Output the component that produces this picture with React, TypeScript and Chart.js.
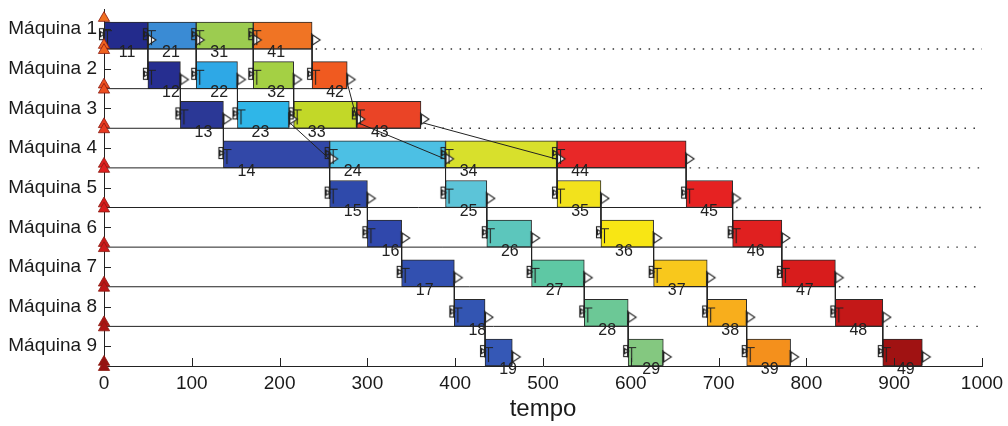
import React, { useEffect, useRef } from 'react';
import { Chart, registerables } from 'chart.js';

Chart.register(...registerables);

// ---------- data ----------
const machineLabels = ['Máquina 1', 'Máquina 2', 'Máquina 3', 'Máquina 4', 'Máquina 5', 'Máquina 6', 'Máquina 7', 'Máquina 8', 'Máquina 9'];
const xTickValues = [0, 100, 200, 300, 400, 500, 600, 700, 800, 900, 1000];
const jobIds = [1, 2, 3, 4];

// start / end time of each job on machines 1..9
const job1Start = [0, 50, 87, 136, 257, 300, 339, 399, 434];
const job1End = [50, 87, 136, 257, 300, 339, 399, 434, 465];
const job2Start = [50, 105, 152, 257, 389, 436, 487, 547, 597];
const job2End = [105, 152, 211, 389, 436, 487, 547, 597, 637];
const job3Start = [105, 170, 216, 389, 516, 566, 626, 687, 732];
const job3End = [170, 216, 288, 516, 566, 626, 687, 732, 782];
const job4Start = [170, 237, 288, 516, 663, 716, 772, 833, 887];
const job4End = [237, 277, 361, 663, 716, 772, 833, 887, 932];

// colours of each operation
const job1Colors = ['#232b8c', '#262e90', '#2b3896', '#3248a8', '#2f4aab', '#3048ac', '#3250b0', '#3355b2', '#3558b6'];
const job2Colors = ['#3a8bd4', '#2ea8e6', '#2fb6e8', '#4cc0e4', '#5cc4d8', '#5cc6bc', '#5ec8a4', '#6cc896', '#84c880'];
const job3Colors = ['#9ccc50', '#a4d044', '#c2d828', '#d8e02c', '#f2e21c', '#f8e614', '#f8c81c', '#f8ae1c', '#f4901c'];
const job4Colors = ['#f07424', '#f05a20', '#ea4426', '#e82828', '#e62222', '#e02020', '#d81c1c', '#c41818', '#a01212'];

// availability markers at time 0 (top of machine 1, then each machine baseline)
const markerColors = ['#f07020', '#f06420', '#ee5020', '#e83a20', '#e02020', '#d81c1c', '#cc1a1a', '#bc1616', '#ac1414', '#981212'];

const jobStarts = [job1Start, job2Start, job3Start, job4Start];
const jobEnds = [job1End, job2End, job3End, job4End];
const jobColors = [job1Colors, job2Colors, job3Colors, job4Colors];

const FONT = '"Liberation Sans", Arial, Helvetica, sans-serif';
const INK = '#222222';

type Op = { job: number; machine: number; s: number; e: number; color: string; label: string };

const ops: Op[] = [];
jobIds.forEach((job, ji) => {
  machineLabels.forEach((_, mi) => {
    ops.push({
      job,
      machine: mi + 1,
      s: jobStarts[ji][mi],
      e: jobEnds[ji][mi],
      color: jobColors[ji][mi],
      label: `${job}${mi + 1}`,
    });
  });
});

const makespans = machineLabels.map((_, mi) => Math.max(...jobEnds.map((arr) => arr[mi])));

function makeStartGlyph(): HTMLCanvasElement {
  const c = document.createElement('canvas');
  c.width = 26;
  c.height = 26;
  const g = c.getContext('2d')!;
  g.strokeStyle = INK;
  g.lineWidth = 1.1;
  g.strokeRect(8.5, 4.5, 4, 11);
  g.beginPath();
  g.moveTo(9.5, 7.5);
  g.lineTo(13.5, 10);
  g.lineTo(9.5, 12.5);
  g.closePath();
  g.stroke();
  g.beginPath();
  g.moveTo(12, 6.5);
  g.lineTo(21, 6.5);
  g.moveTo(16.5, 6.5);
  g.lineTo(16.5, 21);
  g.stroke();
  return c;
}

function makeEndGlyph(): HTMLCanvasElement {
  const c = document.createElement('canvas');
  c.width = 24;
  c.height = 24;
  const g = c.getContext('2d')!;
  g.strokeStyle = INK;
  g.lineWidth = 1.1;
  g.beginPath();
  g.moveTo(11.5, 5);
  g.lineTo(11.5, 20);
  g.stroke();
  g.beginPath();
  g.moveTo(12.5, 7);
  g.lineTo(20, 12);
  g.lineTo(12.5, 17);
  g.closePath();
  g.fillStyle = '#ffffff';
  g.fill();
  g.stroke();
  return c;
}

const decorPlugin = {
  id: 'ganttDecor',
  afterDatasetsDraw(chart: any) {
    const { ctx } = chart;
    const x = chart.scales.x;
    const y = chart.scales.y;
    ctx.save();
    // operation labels
    ctx.font = `16px ${FONT}`;
    ctx.fillStyle = INK;
    ctx.textAlign = 'center';
    ctx.textBaseline = 'middle';
    ops.forEach((o) => {
      ctx.fillText(o.label, x.getPixelForValue(o.s) + 23, y.getPixelForValue(o.machine) + 4);
    });
    // inward tick marks
    ctx.strokeStyle = INK;
    ctx.lineWidth = 1;
    ctx.beginPath();
    xTickValues.forEach((v) => {
      if (v === 0) return;
      const px = Math.round(x.getPixelForValue(v)) + 0.5;
      ctx.moveTo(px, y.bottom);
      ctx.lineTo(px, y.bottom - 8);
    });
    machineLabels.forEach((_, i) => {
      const py = Math.round(y.getPixelForValue(i + 0.5)) + 0.5;
      ctx.moveTo(x.left, py);
      ctx.lineTo(x.left + 7, py);
    });
    ctx.stroke();
    ctx.restore();
  },
};

export default function App() {
  const ref = useRef<HTMLCanvasElement>(null);

  useEffect(() => {
    const canvas = ref.current;
    if (!canvas) return;
    const startGlyph = makeStartGlyph();
    const endGlyph = makeEndGlyph();

    const datasets: any[] = [];

    // bars
    datasets.push({
      type: 'bar',
      indexAxis: 'y',
      data: ops.map((o) => ({ x: [o.s, o.e], y: o.machine - 0.34 })),
      backgroundColor: ops.map((o) => o.color),
      borderColor: '#2a2a2a',
      borderWidth: 1,
      borderSkipped: false,
      barThickness: 27,
      grouped: false,
      order: 10,
    });

    // solid baselines and dotted idle lines
    machineLabels.forEach((_, mi) => {
      const k = mi + 1;
      if (k < machineLabels.length) {
        datasets.push({
          type: 'line',
          data: [{ x: 0, y: k }, { x: makespans[mi], y: k }],
          borderColor: INK,
          borderWidth: 1,
          pointRadius: 0,
          fill: false,
          order: 6,
        });
        datasets.push({
          type: 'line',
          data: [{ x: makespans[mi] + 4, y: k }, { x: 1000, y: k }],
          borderColor: '#333',
          borderWidth: 1.3,
          borderDash: [1.5, 7.5],
          pointRadius: 0,
          fill: false,
          order: 6,
        });
      }
    });

    // precedence connectors
    jobIds.forEach((_, ji) => {
      for (let mi = 0; mi < machineLabels.length - 1; mi++) {
        datasets.push({
          type: 'line',
          data: [
            { x: jobEnds[ji][mi], y: mi + 1 - 0.15 },
            { x: jobStarts[ji][mi + 1], y: mi + 2 - 0.22 },
          ],
          borderColor: INK,
          borderWidth: 1,
          pointRadius: 0,
          fill: false,
          order: 4,
        });
      }
    });

    // start / end glyphs
    datasets.push({
      type: 'scatter',
      data: ops.map((o) => ({ x: o.s, y: o.machine - 0.3 })),
      pointStyle: startGlyph,
      pointRadius: 4,
      clip: false,
      order: 2,
    });
    datasets.push({
      type: 'scatter',
      data: ops.map((o) => ({ x: o.e, y: o.machine - 0.23 })),
      pointStyle: endGlyph,
      pointRadius: 4,
      clip: false,
      order: 2,
    });

    // availability triangles at t = 0
    const triPts: any[] = [{ x: 0, y: 0.22 }];
    const triCols: string[] = [markerColors[0]];
    machineLabels.forEach((_, mi) => {
      triPts.push({ x: 0, y: mi + 1 - 0.1 });
      triCols.push(markerColors[mi + 1]);
      triPts.push({ x: 0, y: mi + 1 + 0.03 });
      triCols.push(markerColors[mi + 1]);
    });
    datasets.push({
      type: 'scatter',
      data: triPts,
      pointStyle: 'triangle',
      pointRadius: 6.5,
      backgroundColor: triCols,
      borderColor: triCols.map(() => '#8a1a10'),
      borderWidth: 0.8,
      clip: false,
      order: 1,
    });

    const chart = new Chart(canvas, {
      type: 'bar',
      data: { datasets },
      plugins: [decorPlugin],
      options: {
        animation: false,
        responsive: true,
        maintainAspectRatio: false,
        layout: { padding: { top: 9.4, right: 26, bottom: 0, left: 0 } },
        plugins: {
          legend: { display: false },
          tooltip: { enabled: false },
          title: { display: false },
        },
        scales: {
          x: {
            type: 'linear',
            position: 'bottom',
            min: 0,
            max: 1000,
            offset: false,
            afterBuildTicks: (s: any) => {
              s.ticks = xTickValues.map((v) => ({ value: v }));
            },
            ticks: {
              font: { family: FONT, size: 19 },
              color: '#1a1a1a',
              padding: 6,
              maxRotation: 0,
              autoSkip: false,
              callback: (v: any) => String(v),
            },
            grid: { drawOnChartArea: false, drawTicks: false, offset: false },
            border: { display: true, color: INK, width: 1 },
            title: {
              display: true,
              text: 'tempo',
              font: { family: FONT, size: 24 },
              color: '#1a1a1a',
              padding: { top: 0, bottom: 2 },
            },
            afterFit: (s: any) => {
              s.height = 60;
              s.paddingLeft = 0;
              s.paddingRight = 0;
            },
          },
          y: {
            type: 'linear',
            position: 'left',
            min: 0,
            max: 9,
            reverse: true,
            offset: false,
            afterBuildTicks: (s: any) => {
              s.ticks = machineLabels.map((_, i) => ({ value: i + 0.5 }));
            },
            ticks: {
              font: { family: FONT, size: 19 },
              color: '#1a1a1a',
              padding: 7,
              autoSkip: false,
              callback: (v: any) => machineLabels[Math.round(Number(v) - 0.5)],
            },
            grid: { drawOnChartArea: false, drawTicks: false, offset: false },
            border: { display: true, color: INK, width: 1 },
            afterFit: (s: any) => {
              s.width = 104;
              s.paddingTop = 0;
              s.paddingBottom = 0;
            },
          },
        },
      } as any,
    });

    return () => chart.destroy();
  }, []);

  return (
    <div style={{ position: 'fixed', left: 0, top: 0, width: 1008, height: 426, background: '#ffffff' }}>
      <canvas ref={ref} />
    </div>
  );
}
